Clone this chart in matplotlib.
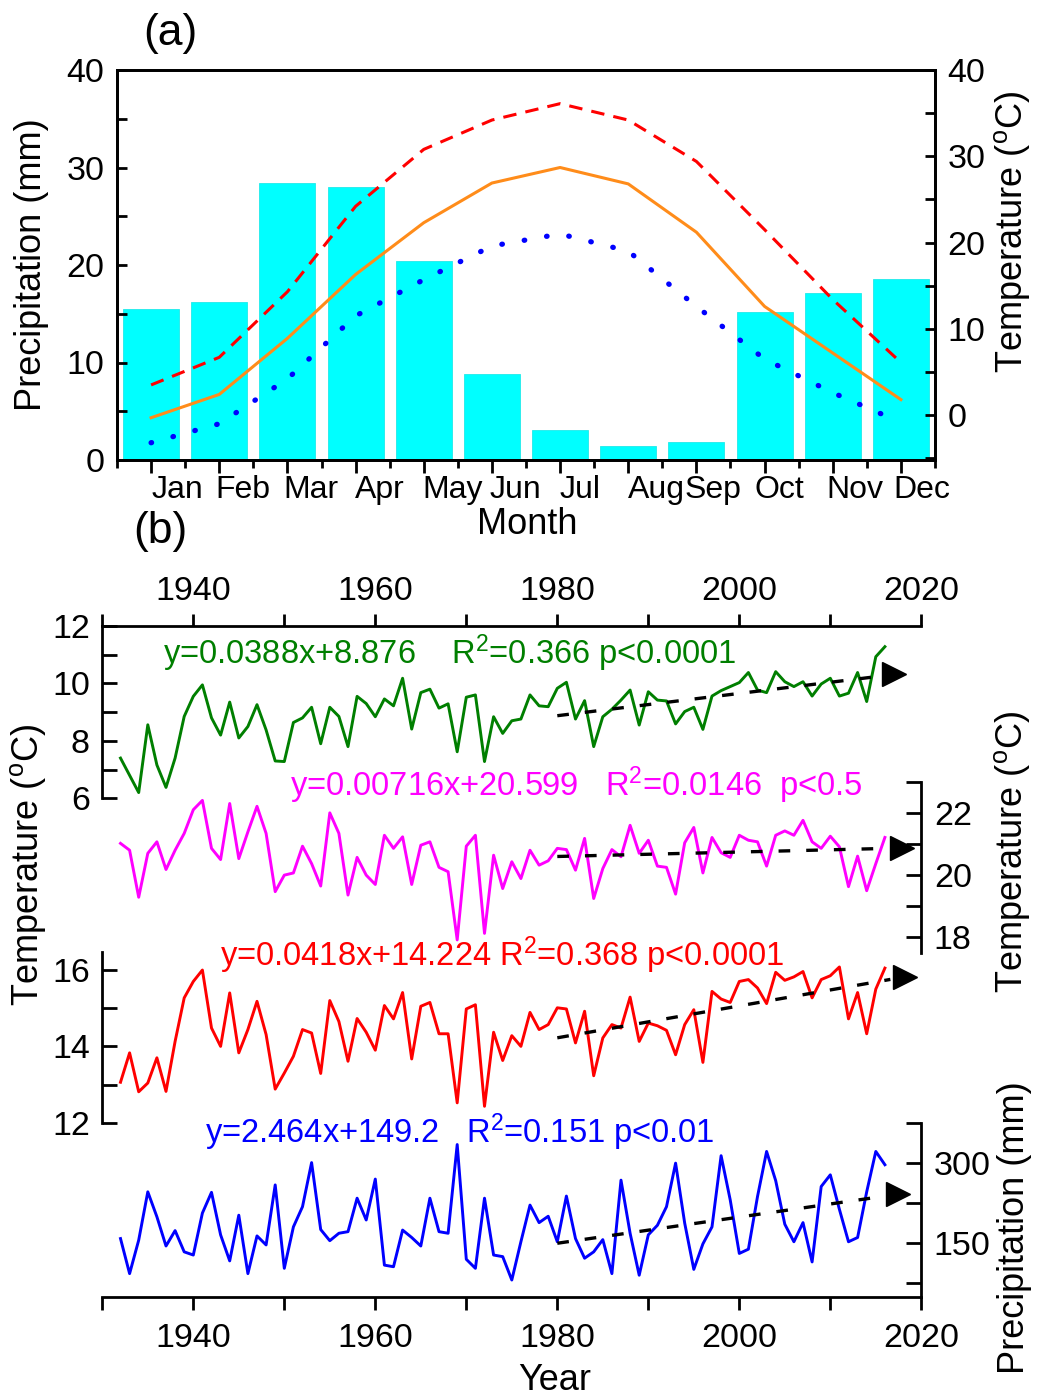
import numpy as np
import matplotlib
matplotlib.use('Agg')
import matplotlib.pyplot as plt
from matplotlib.ticker import MultipleLocator

plt.rcParams['font.family'] = ['Liberation Sans', 'DejaVu Sans']
plt.rcParams['mathtext.default'] = 'regular'

# figure size in pixels (dpi 100)
W, H = 1038, 1396

# ---- panel (a): monthly climate ----
months = ['Jan', 'Feb', 'Mar', 'Apr', 'May', 'Jun', 'Jul', 'Aug', 'Sep', 'Oct', 'Nov', 'Dec']
precip_month = [15.5, 16.2, 28.4, 28.05, 20.4, 8.8, 3.1, 1.4, 1.8, 15.2, 17.1, 18.6]
tmean_month = [-0.3, 2.4, 8.9, 16.3, 22.3, 26.9, 28.7, 26.8, 21.2, 12.6, 7.2, 1.8]
tmax_month = [3.5, 6.7, 14.3, 24.2, 30.8, 34.2, 36.1, 34.2, 29.4, 21.5, 13.4, 6.1]
tmin_month = [-3.2, -1.0, 4.2, 11.5, 15.7, 19.6, 21.0, 19.0, 12.6, 6.5, 2.6, -0.85]

# ---- panel (b): annual series 1932-2016 ----
years = np.arange(1932, 2017)
tmin_year = [7.40, 6.80, 6.20, 8.56, 7.16, 6.38, 7.40, 8.85, 9.55, 9.95,
             8.80, 8.20, 9.35, 8.10, 8.50, 9.26, 8.38, 7.30, 7.28, 8.64,
             8.80, 9.17, 7.90, 9.17, 8.85, 7.80, 9.55, 9.30, 8.84, 9.46,
             9.22, 10.18, 8.41, 9.68, 9.80, 9.14, 9.29, 7.62, 9.52, 9.60,
             7.28, 8.84, 8.26, 8.70, 8.76, 9.60, 9.22, 9.19, 9.83, 10.04,
             8.76, 9.40, 7.80, 8.84, 9.10, 9.42, 9.77, 8.55, 9.71, 9.42,
             9.39, 8.59, 9.02, 9.17, 8.40, 9.56, 9.75, 9.89, 10.03, 10.38,
             9.77, 9.68, 10.41, 10.06, 9.89, 10.06, 9.56, 9.98, 10.18, 9.56,
             9.66, 10.38, 9.37, 10.93, 11.28]
tmax_year = [21.02, 20.80, 19.29, 20.70, 21.07, 20.18, 20.80, 21.34, 22.10, 22.40,
             20.86, 20.50, 22.30, 20.53, 21.39, 22.21, 21.34, 19.47, 20.00, 20.07,
             20.93, 20.37, 19.65, 22.00, 21.34, 19.36, 20.57, 20.00, 19.70, 21.28,
             20.86, 21.23, 19.70, 20.96, 21.07, 20.25, 20.11, 17.92, 20.93, 21.28,
             18.13, 20.64, 19.57, 20.43, 19.89, 20.80, 20.32, 20.46, 20.86, 20.82,
             20.16, 21.18, 19.25, 20.21, 20.82, 20.59, 21.60, 20.70, 21.12, 20.29,
             20.25, 19.39, 21.04, 21.53, 20.07, 21.21, 20.72, 20.57, 21.28, 21.12,
             21.07, 20.29, 21.28, 21.42, 21.28, 21.76, 21.07, 20.86, 21.25, 20.91,
             19.63, 20.61, 19.50, 20.37, 21.21]
tmean_year = [13.06, 13.83, 12.81, 13.04, 13.70, 12.82, 14.13, 15.27, 15.70, 16.00,
              14.48, 14.00, 15.40, 13.83, 14.44, 15.18, 14.31, 12.88, 13.30, 13.74,
              14.44, 14.35, 13.29, 15.20, 14.65, 13.61, 14.73, 14.37, 13.90, 15.07,
              14.72, 15.41, 13.67, 15.05, 15.15, 14.33, 14.33, 12.52, 14.98, 15.09,
              12.43, 14.37, 13.63, 14.28, 14.00, 14.89, 14.44, 14.57, 15.01, 14.98,
              14.09, 14.92, 13.23, 14.22, 14.57, 14.48, 15.29, 14.13, 14.61, 14.54,
              14.42, 13.78, 14.57, 14.96, 13.58, 15.44, 15.24, 15.15, 15.70, 15.75,
              15.53, 15.12, 15.94, 15.73, 15.82, 15.96, 15.27, 15.75, 15.85, 16.08,
              14.72, 15.41, 14.33, 15.50, 16.05]
prec_year = [158, 92, 155, 246, 199, 144, 173, 133, 127, 206,
             245, 165, 116, 202, 92, 163, 146, 259, 102, 180,
             218, 301, 175, 154, 168, 171, 234, 193, 270, 108,
             105, 174, 160, 144, 234, 171, 168, 335, 119, 102,
             234, 127, 124, 80, 152, 221, 188, 200, 152, 238,
             158, 121, 133, 156, 92, 268, 168, 89, 165, 183,
             218, 300, 187, 100, 148, 180, 314, 231, 130, 138,
             237, 322, 267, 185, 152, 188, 114, 256, 278, 213,
             152, 160, 246, 322, 297]

# published linear fits (x = years since 1980)
trend_slope = [0.0388, 0.00716, 0.0418, 2.464]
trend_icpt = [8.876, 20.599, 14.224, 149.2]
trend_text = ['y=0.0388x+8.876    R$^2$=0.366 p<0.0001',
              'y=0.00716x+20.599   R$^2$=0.0146  p<0.5',
              'y=0.0418x+14.224 R$^2$=0.368 p<0.0001',
              'y=2.464x+149.2   R$^2$=0.151 p<0.01']


def px_axes(left, top, right, bottom):
    # add axes from a pixel box (top-left origin)
    return fig.add_axes([left / W, 1 - bottom / H, (right - left) / W, (bottom - top) / H])


def fig_text(x, y, s, **kw):
    fig.text(x / W, 1 - y / H, s, **kw)


fig = plt.figure(figsize=(W / 100, H / 100), dpi=100)
FS_TICK = 24.5   # tick labels
FS_EQ = 23.5     # fit equations
FS_LAB = 26      # axis titles
FS_MON = 23      # month names
SPW = 2.0

"""
Panel (a)
"""
ax1 = px_axes(117, 70, 935, 460)
xm = np.arange(12) + 0.5
ax1.bar(xm, precip_month, width=0.82, color='#00FFFF', edgecolor='#20EAEA', linewidth=0.6, zorder=1)
ax1.set_xlim(0, 12)
ax1.set_ylim(0, 40)
ax1.yaxis.set_major_locator(MultipleLocator(10))
ax1.yaxis.set_minor_locator(MultipleLocator(5))
ax1.tick_params(axis='y', which='both', direction='in', length=7, width=SPW, labelsize=FS_TICK, pad=9)
ax1.set_xticks(xm)
ax1.set_xticks(np.arange(13), minor=True)
ax1.set_xticklabels([])
ax1.tick_params(axis='x', which='major', direction='out', length=9, width=SPW)
ax1.tick_params(axis='x', which='minor', direction='out', length=6, width=SPW)
for sp in ax1.spines.values():
    sp.set_linewidth(SPW)

# month labels sit a little right of the ticks in the original
month_label_x = [0.88, 1.85, 2.85, 3.86, 4.93, 5.85, 6.79, 7.91, 8.74, 9.71, 10.83, 11.81]
for lbl, xp in zip(months, month_label_x):
    ax1.text(xp, -0.078, lbl, transform=ax1.get_xaxis_transform(), ha='center', va='center',
             fontsize=FS_MON)

ax1r = ax1.twinx()
ax1r.plot(xm, tmax_month, color='#FF0000', lw=2.2, linestyle=(0, (4.4, 3.0)))
ax1r.plot(xm, tmean_month, color='#FF8C1A', lw=2.2)
ax1r.plot(xm, tmin_month, color='#0000FF', lw=3.8, linestyle=(0, (0.1, 4.2)), dash_capstyle='round')
ax1r.set_ylim(-5.2, 40)
ax1r.yaxis.set_major_locator(MultipleLocator(10))
ax1r.yaxis.set_minor_locator(MultipleLocator(5))
ax1r.tick_params(axis='y', which='both', direction='in', length=7, width=SPW, labelsize=FS_TICK, pad=9)
for sp in ax1r.spines.values():
    sp.set_linewidth(SPW)

fig_text(170, 34, '(a)', fontsize=32, ha='center', va='center')
fig_text(32, 265, 'Precipitation (mm)', fontsize=FS_LAB, rotation=90, ha='center', va='center')
fig_text(1012, 232, 'Temperature ($^{o}$C)', fontsize=FS_LAB, rotation=90, ha='center', va='center')
fig_text(527, 525, 'Month', fontsize=FS_LAB, ha='center', va='center')

"""
Panel (b)
"""
fig_text(160, 532, '(b)', fontsize=32, ha='center', va='center')

# frame with the year axes on top and bottom
axf = px_axes(102.3, 626, 921.3, 1297)
axf.set_xlim(1930, 2020)
axf.set_ylim(0, 1)
axf.patch.set_alpha(0)
axf.spines['left'].set_visible(False)
axf.spines['right'].set_visible(False)
axf.spines['top'].set_linewidth(SPW)
axf.spines['bottom'].set_linewidth(SPW)
axf.set_yticks([])
axf.xaxis.set_major_locator(MultipleLocator(20))
axf.xaxis.set_minor_locator(MultipleLocator(10))
axf.tick_params(axis='x', which='both', top=True, labeltop=True, bottom=True, labelbottom=True,
                direction='out', length=9, width=SPW, labelsize=FS_TICK)
axf.tick_params(axis='x', which='major', pad=5)
for t in axf.xaxis.get_major_ticks():
    t.label1.set_y(-0.01)

# one axes per series, stacked
series = [tmin_year, tmax_year, tmean_year, prec_year]
colors = ['#007F00', '#FF00FF', '#FF0000', '#0000FF']
boxes = [(626, 798.3), (781.7, 953), (951.7, 1122.7), (1123.3, 1297)]
ylims = [(6, 12), (17.5, 23), (12, 16.48), (48, 375)]
sides = ['left', 'right', 'left', 'right']
major_step = [2, 2, 2, 150]
minor_step = [1, 1, 1, 75]
arrow_x = [2017.0, 2017.9, 2018.2, 2017.4]
text_pos = [(163, 653), (290, 785), (220, 955), (205, 1132)]

for i in range(4):
    ax = px_axes(102.3, boxes[i][0], 921.3, boxes[i][1])
    ax.patch.set_alpha(0)
    ax.set_xlim(1930, 2020)
    ax.set_ylim(*ylims[i])
    ax.plot(years, series[i], color=colors[i], lw=2.1)

    # trend line from 1980 and arrow head
    xt = np.array([1980, arrow_x[i] - 1.6])
    ax.plot(xt, trend_slope[i] * (xt - 1980) + trend_icpt[i], color='black', lw=2.4,
            linestyle=(0, (3.5, 4.8)))
    ax.plot([arrow_x[i]], [trend_slope[i] * (arrow_x[i] - 1980) + trend_icpt[i]], marker='>',
            color='black', markersize=17, linestyle='none')

    for sp in ['top', 'bottom', 'left', 'right']:
        ax.spines[sp].set_visible(sp == sides[i])
    ax.spines[sides[i]].set_linewidth(SPW)
    ax.set_xticks([])
    ax.yaxis.set_ticks_position(sides[i])
    ax.yaxis.set_label_position(sides[i])
    ax.yaxis.set_major_locator(MultipleLocator(major_step[i]))
    ax.yaxis.set_minor_locator(MultipleLocator(minor_step[i]))
    ax.tick_params(axis='y', which='both', direction='in', length=11, width=SPW,
                   labelsize=FS_TICK, pad=9)
    if i == 1:
        ax.set_yticks([18, 20, 22])
        ax.set_yticks([19, 21, 23], minor=True)
    if i == 2:
        ax.set_yticks([12, 14, 16])
    if i == 3:
        ax.set_yticks([150, 300])
        ax.set_yticks([75, 225, 375], minor=True)

    fig_text(text_pos[i][0], text_pos[i][1], trend_text[i], fontsize=FS_EQ, color=colors[i],
             ha='left', va='center')

fig_text(28, 865, 'Temperature ($^{o}$C)', fontsize=FS_LAB, rotation=90, ha='center', va='center')
fig_text(1012, 852, 'Temperature ($^{o}$C)', fontsize=FS_LAB, rotation=90, ha='center', va='center')
fig_text(1015, 1228, 'Precipitation (mm)', fontsize=FS_LAB, rotation=90, ha='center', va='center')
fig_text(555, 1380, 'Year', fontsize=FS_LAB, ha='center', va='center')

fig.savefig('out.png', dpi=100)
